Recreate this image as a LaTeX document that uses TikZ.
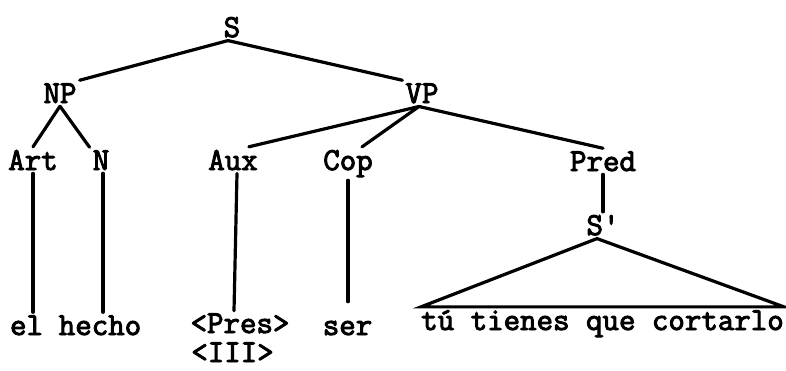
\documentclass[tikz,border=0pt]{standalone}
\usepackage{fontspec}
\newfontfamily\tw{Latin Modern Mono}[FakeBold=3]
\tikzset{
  lab/.style={anchor=base, inner sep=3bp, font=\tw\fontsize{32bp}{33bp}\selectfont},
  edge/.style={line width=3.2bp, line cap=round}
}
\begin{document}
\begin{tikzpicture}[x=1bp,y=-1bp]
\useasboundingbox (0,0) rectangle (786,370);
% category labels
\node[lab] (S)    at (232,37)  {S};
\node[lab] (NP)   at (60,103)  {NP};
\node[lab] (VP)   at (422,103) {VP};
\node[lab] (Art)  at (33,170)  {Art};
\node[lab] (N)    at (101,170) {N};
\node[lab] (Aux)  at (233,170) {Aux};
\node[lab] (Cop)  at (348,170) {Cop};
\node[lab] (Pred) at (603,171) {Pred};
\node[lab] (Sp)   at (603,235) {S\textquotesingle};
% leaves
\node[lab] (el)    at (26.5,335) {el};
\node[lab] (hecho) at (100,335)  {hecho};
\node[lab, inner sep=0.5bp] (Pres)  at (240,333)  {<Pres>};
\node[lab, inner sep=0.5bp] (III)   at (232.5,362) {<III>};
\node[lab] (ser)   at (347.5,335) {ser};
\node[lab, inner xsep=0bp] (tu) at (602.5,330) {tú tienes que cortarlo};
% branches
\draw[edge] ([xshift=-4bp]S.south) -- (NP.north east);
\draw[edge] ([xshift=-4bp]S.south) -- (VP.north west);
\draw[edge] (NP.south) -- (Art.north);
\draw[edge] (NP.south) -- (N.north west);
\draw[edge] ([xshift=-3bp]VP.south) -- (Aux.40);
\draw[edge] ([xshift=-3bp]VP.south) -- (Cop.50);
\draw[edge] ([xshift=-3bp]VP.south) -- (Pred.north);
\draw[edge] (Art.south) -- (Art.south |- el.north);
\draw[edge] ([xshift=2bp]N.south) -- ([xshift=2bp]N.south |- hecho.north);
\draw[edge] ([xshift=4bp]Aux.south) -- ([xshift=-6bp,yshift=2bp]Pres.north);
\draw[edge] (Cop.south) -- ([yshift=16bp]Cop.south |- ser.north);
\draw[edge] (Pred.south) -- (Sp.north);
\draw[edge] ([xshift=-6bp]Sp.south) -- (tu.north west) -- (tu.north east) -- cycle;
\end{tikzpicture}
\end{document}
